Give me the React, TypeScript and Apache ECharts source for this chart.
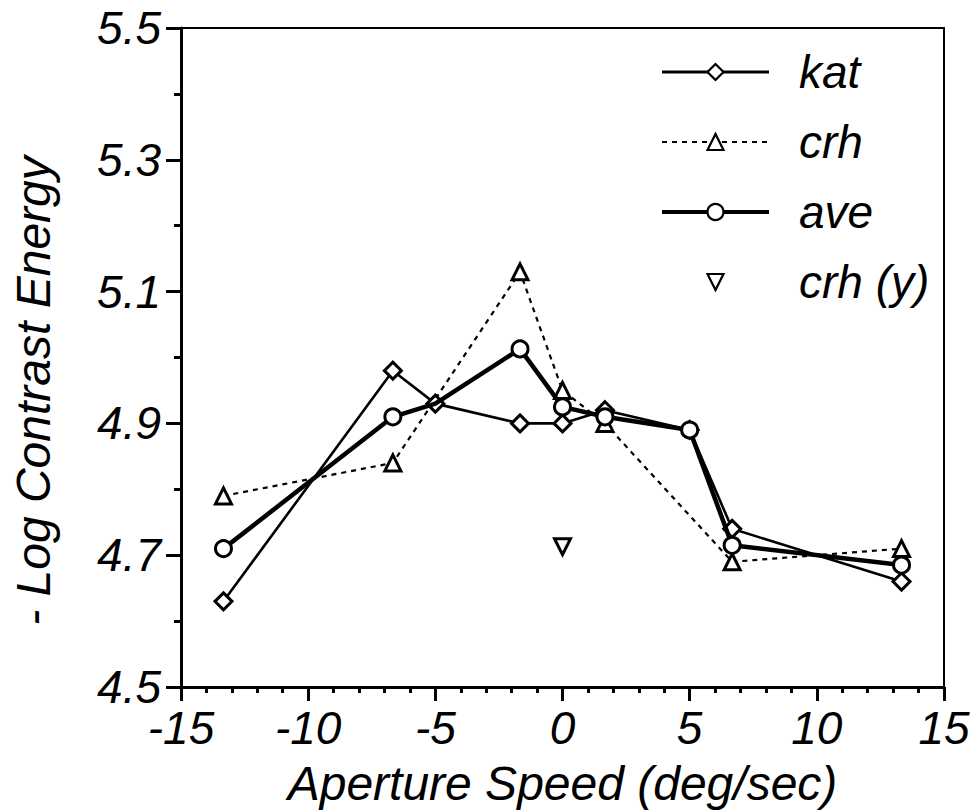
import React, { useEffect, useRef } from "react";
import * as echarts from "echarts";

// Aperture speed (deg/sec) for each observer
const katSpeeds = [-13.33, -6.67, -5, -1.67, 0, 1.67, 5, 6.67, 13.33];
const katValues = [4.63, 4.98, 4.93, 4.9, 4.9, 4.92, 4.89, 4.74, 4.66];

const crhSpeeds = [-13.33, -6.67, -1.67, 0, 1.67, 6.67, 13.33];
const crhValues = [4.79, 4.84, 5.13, 4.95, 4.9, 4.69, 4.71];

const aveSpeeds = [-13.33, -6.67, -5, -1.67, 0, 1.67, 5, 6.67, 13.33];
const aveValues = [4.71, 4.91, 4.93, 5.013, 4.925, 4.91, 4.89, 4.715, 4.685];
const aveNoMarkerSpeeds = [-5];

const crhYSpeeds = [0];
const crhYValues = [4.713];

const yMajorTicks = [4.5, 4.7, 4.9, 5.1, 5.3, 5.5];
const yMinorTicks = [4.6, 4.8, 5.0, 5.2, 5.4];

const seriesNames = ["kat", "crh", "ave", "crh (y)"];

export default function App() {
  const ref = useRef<HTMLDivElement>(null);

  useEffect(() => {
    document.body.style.margin = "0";
    const chart = echarts.init(ref.current!, null, { renderer: "svg" });
    const font = "'Liberation Sans', Arial, Helvetica, sans-serif";
    const pair = (xs: number[], ys: number[]) => xs.map((x, i) => [x, ys[i]]);

    const markerStyle = { color: "#fff", borderColor: "#000", borderWidth: 3 };

    const option: any = {
      animation: false,
      backgroundColor: "#fff",
      grid: {
        left: 181,
        right: 33,
        top: 28,
        bottom: 123.5,
        show: true,
        borderColor: "#000",
        borderWidth: 2,
      },
      legend: {
        data: [
          { name: "kat", lineStyle: { width: 3 } },
          { name: "crh", lineStyle: { width: 2 } },
          { name: "ave", lineStyle: { width: 4 } },
          { name: "crh (y)" },
        ],
        orient: "vertical",
        left: 655,
        top: 44,
        itemWidth: 107,
        itemHeight: 20,
        itemGap: 24,
        selectedMode: false,
        itemStyle: { borderWidth: 2.2 },
        textStyle: {
          fontFamily: font,
          fontStyle: "italic",
          fontSize: 46,
          lineHeight: 46,
          color: "#000",
          padding: [0, 0, 0, 25],
        },
      },
      xAxis: {
        type: "value",
        min: -15,
        max: 15,
        interval: 5,
        axisLine: { show: true, onZero: false, lineStyle: { color: "#000", width: 3 } },
        axisTick: { show: true, length: 14, lineStyle: { color: "#000", width: 3 } },
        minorTick: { show: true, splitNumber: 5, length: 6, lineStyle: { color: "#000", width: 3 } },
        splitLine: { show: false },
        axisLabel: {
          fontFamily: font,
          fontStyle: "italic",
          fontSize: 46,
          color: "#000",
          margin: 18,
        },
        name: "Aperture Speed (deg/sec)",
        nameLocation: "middle",
        nameGap: 72,
        nameTextStyle: {
          fontFamily: font,
          fontStyle: "italic",
          fontSize: 48,
          color: "#000",
        },
      },
      yAxis: [
        {
          type: "value",
          min: 4.5,
          max: 5.5,
          position: "left",
          offset: 0,
          axisLine: { show: true, onZero: false, lineStyle: { color: "#000", width: 3 } },
          axisTick: {
            show: true,
            length: 15,
            customValues: yMajorTicks,
            lineStyle: { color: "#000", width: 3 },
          },
          splitLine: { show: false },
          axisLabel: {
            customValues: yMajorTicks,
            fontFamily: font,
            fontStyle: "italic",
            fontSize: 46,
            color: "#000",
            margin: 20,
          },
        },
        {
          type: "value",
          min: 4.5,
          max: 5.5,
          position: "left",
          offset: 0,
          axisLine: { show: false, onZero: false },
          axisTick: {
            show: true,
            length: 7,
            customValues: yMinorTicks,
            lineStyle: { color: "#000", width: 3 },
          },
          splitLine: { show: false },
          axisLabel: { show: false },
        },
      ],
      graphic: [
        {
          type: "text",
          x: 33,
          y: 391,
          rotation: Math.PI / 2,
          style: {
            text: "- Log Contrast Energy",
            font: `italic 48px ${font}`,
            fill: "#000",
            textAlign: "center",
            textVerticalAlign: "middle",
          },
        },
      ],
      series: [
        {
          name: "kat",
          type: "line",
          z: 3,
          data: pair(katSpeeds, katValues),
          symbol: "diamond",
          symbolSize: 17,
          lineStyle: { color: "#000", width: 2.6 },
          itemStyle: markerStyle,
        },
        {
          name: "crh",
          type: "line",
          z: 2,
          data: pair(crhSpeeds, crhValues),
          symbol: "triangle",
          symbolSize: 16,
          lineStyle: { color: "#000", width: 2.2, type: [5, 5] },
          itemStyle: markerStyle,
        },
        {
          name: "ave",
          type: "line",
          z: 4,
          data: pair(aveSpeeds, aveValues).map((p) =>
            aveNoMarkerSpeeds.includes(p[0]) ? { value: p, symbol: "none" } : p
          ),
          symbol: "circle",
          symbolSize: 16,
          lineStyle: { color: "#000", width: 4.5 },
          itemStyle: markerStyle,
        },
        {
          name: "crh (y)",
          type: "line",
          z: 5,
          data: pair(crhYSpeeds, crhYValues),
          symbol: "triangle",
          symbolRotate: 180,
          symbolSize: 16,
          lineStyle: { color: "#000", width: 0, opacity: 0 },
          itemStyle: markerStyle,
        },
      ],
    };

    chart.setOption(option);
    return () => chart.dispose();
  }, []);

  return <div ref={ref} style={{ width: 977, height: 812 }} />;
}
